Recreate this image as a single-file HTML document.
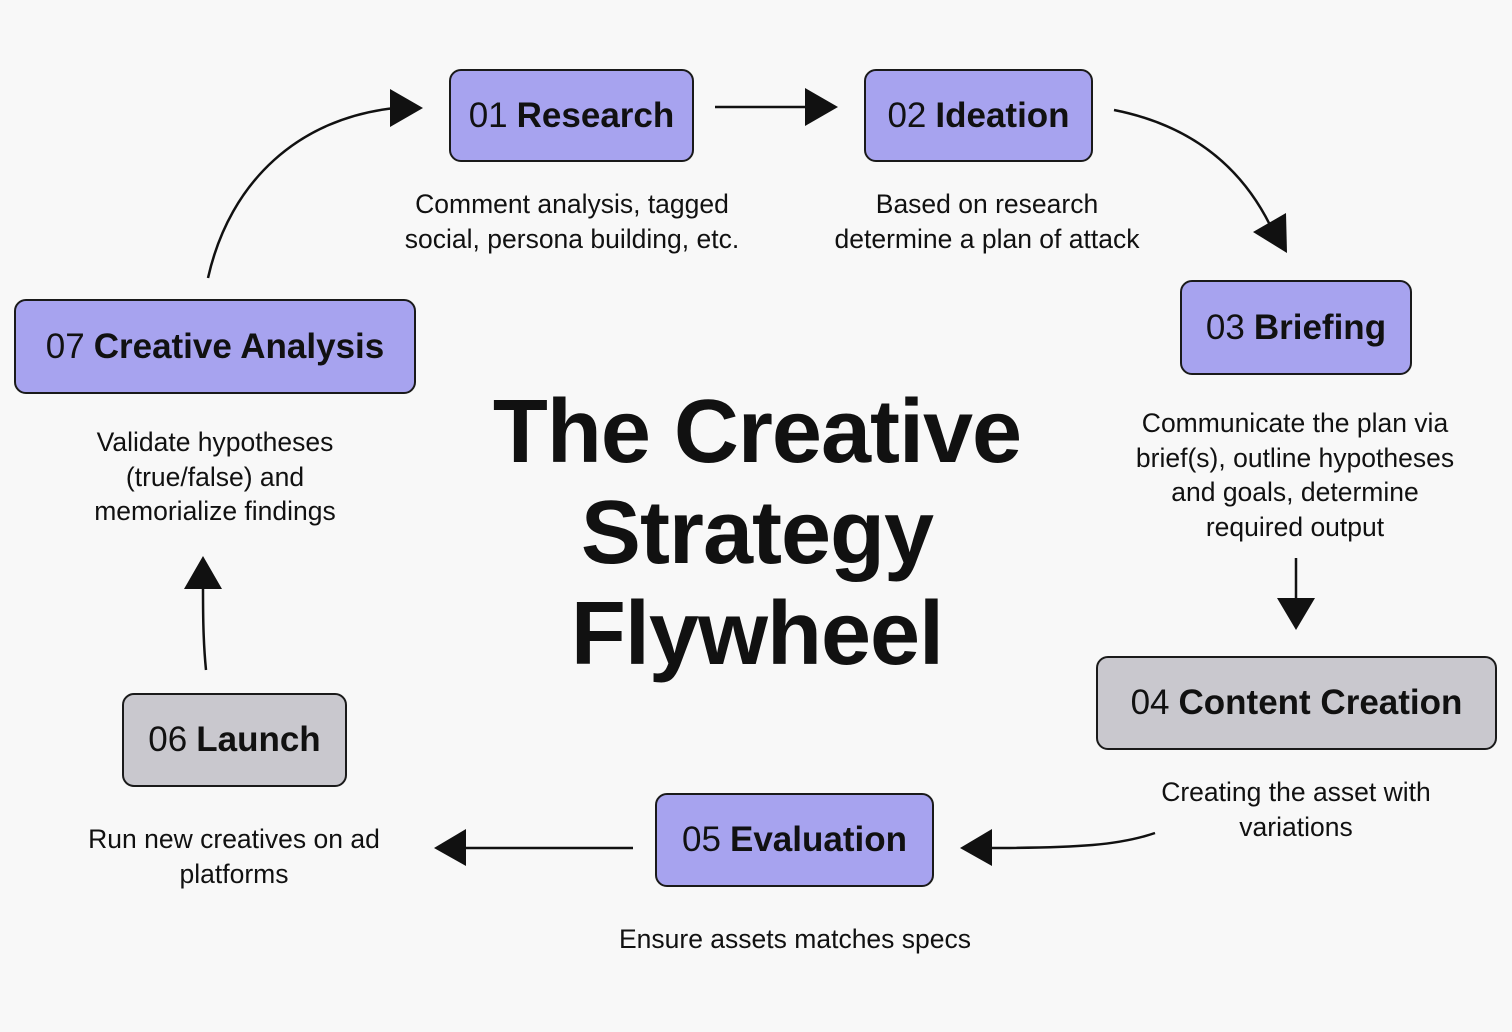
<!DOCTYPE html>
<html><head><meta charset="utf-8"><style>
body{margin:0;width:1512px;height:1032px;background:#f8f8f8;position:relative;overflow:hidden;font-family:"Liberation Sans",sans-serif;color:#111}
.b{position:absolute;box-sizing:border-box;border:2px solid #1a1a1a;border-radius:12px;background:#a7a3ef;display:flex;align-items:center;justify-content:center;font-size:35px;white-space:nowrap}
.b b{margin-left:9px}
.g{background:#c9c8ce}
.t{position:absolute;text-align:center;font-size:26.5px;line-height:34.5px;white-space:nowrap;transform:translateX(-50%)}
.title{position:absolute;left:757px;top:382px;transform:translateX(-50%);text-align:center;font-weight:bold;font-size:90px;line-height:101px;white-space:nowrap;letter-spacing:-1px}
svg{position:absolute;left:0;top:0}
</style></head><body>
<div class="b" style="left:449px;top:69px;width:245px;height:93px">01<b>Research</b></div>
<div class="b" style="left:864px;top:69px;width:229px;height:93px">02<b>Ideation</b></div>
<div class="b" style="left:1180px;top:280px;width:232px;height:95px">03<b>Briefing</b></div>
<div class="b g" style="left:1096px;top:656px;width:401px;height:94px">04<b>Content Creation</b></div>
<div class="b" style="left:655px;top:793px;width:279px;height:94px">05<b>Evaluation</b></div>
<div class="b g" style="left:122px;top:693px;width:225px;height:94px">06<b>Launch</b></div>
<div class="b" style="left:14px;top:299px;width:402px;height:95px">07<b>Creative Analysis</b></div>

<div class="t" style="left:572px;top:187px">Comment analysis, tagged<br>social, persona building, etc.</div>
<div class="t" style="left:987px;top:187px">Based on research<br>determine a plan of attack</div>
<div class="t" style="left:1295px;top:406px">Communicate the plan via<br>brief(s), outline hypotheses<br>and goals, determine<br>required output</div>
<div class="t" style="left:1296px;top:775px">Creating the asset with<br>variations</div>
<div class="t" style="left:795px;top:922px">Ensure assets matches specs</div>
<div class="t" style="left:234px;top:822px">Run new creatives on ad<br>platforms</div>
<div class="t" style="left:215px;top:425px">Validate hypotheses<br>(true/false) and<br>memorialize findings</div>

<div class="title">The Creative<br>Strategy<br>Flywheel</div>

<svg width="1512" height="1032" fill="none" stroke="#111" stroke-width="2.5">
<path d="M715 107H810"/><polygon points="805,88 838,107 805,126" fill="#111" stroke="none"/>
<path d="M1114 110C1190 125 1240 165 1270 225"/><polygon points="1253,232 1287,253 1286,213" fill="#111" stroke="none"/>
<path d="M1296 558V605"/><polygon points="1277,598 1296,630 1315,598" fill="#111" stroke="none"/>
<path d="M1155 833C1120 845 1080 848 985 848"/><polygon points="992,829 960,848 992,866" fill="#111" stroke="none"/>
<path d="M633 848H460"/><polygon points="466,829 434,848 466,866" fill="#111" stroke="none"/>
<path d="M206 670C203 640 203 610 203 585"/><polygon points="184,589 203,556 222,589" fill="#111" stroke="none"/>
<path d="M208 278C230 180 300 118 395 108"/><polygon points="390,89 423,108 390,127" fill="#111" stroke="none"/>
</svg>
</body></html>
